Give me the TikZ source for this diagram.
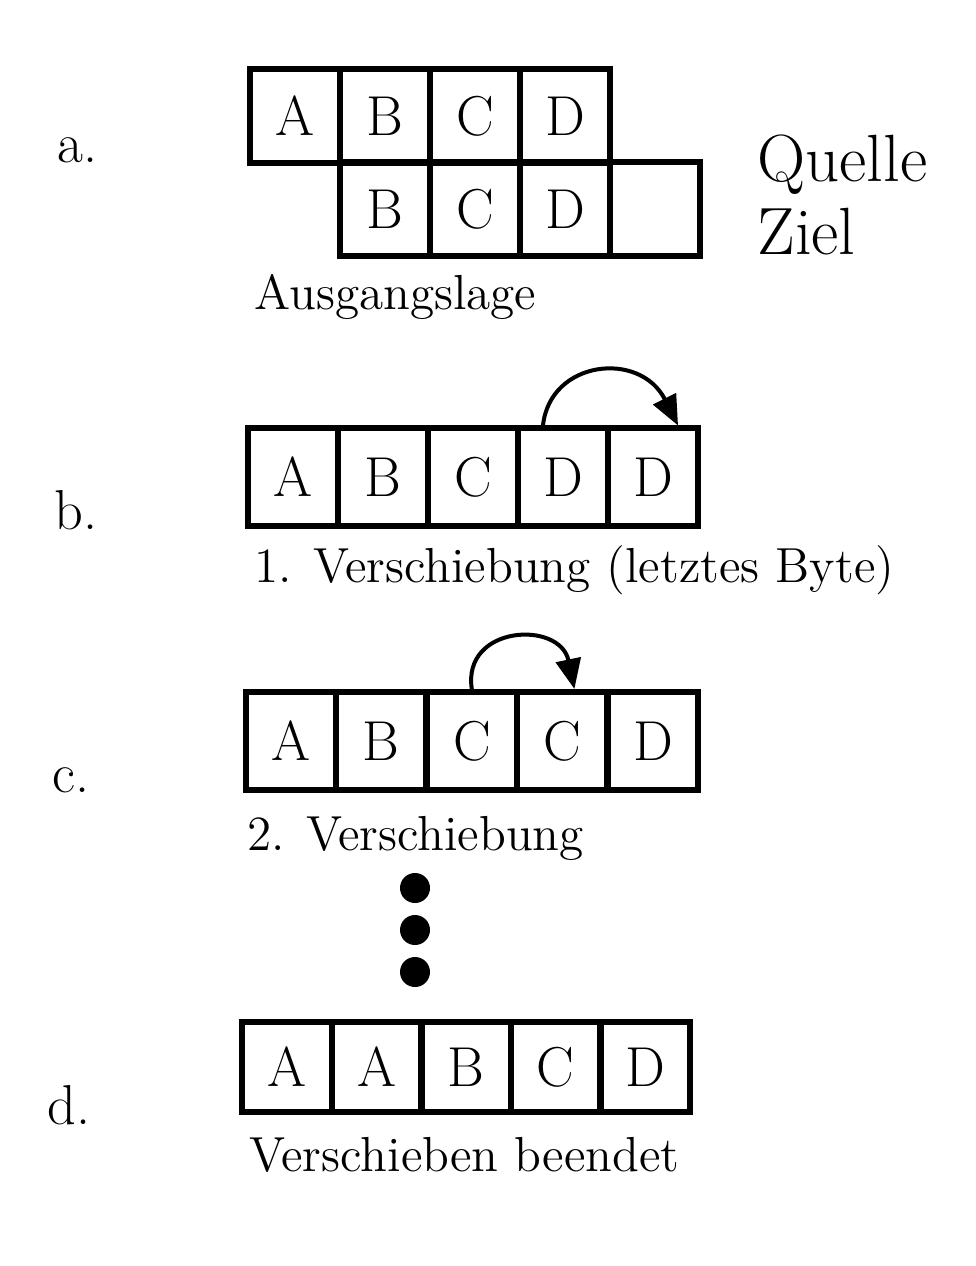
\documentclass[tikz,border=0pt]{standalone}
\usepackage{tikz}
\usetikzlibrary{arrows.meta}

\tikzset{
  cell/.style={draw, line width=.06cm, minimum width=.9cm, minimum height=.93cm,
    inner sep=0pt, font=\fontsize{16}{18}\selectfont},
  tag/.style={anchor=west, font=\fontsize{16}{18}\selectfont},
  caption/.style={anchor=west, font=\fontsize{14}{16}\selectfont},
  jump/.style={line width=.04cm, -{Triangle[length=.3cm,width=.25cm]}}
}

\begin{document}
\begin{tikzpicture}[x=.01cm,y=-.01cm]
  \useasboundingbox (0,0) rectangle (975,1266);

  % a. Ausgangslage
  \foreach \t [count=\i] in {A,B,C,D}
    \node[cell] (qa\i) at (250+\i*90-45, 116) {\t};
  \foreach \t [count=\i] in {B,C,D,{}}
    \node[cell] (za\i) at (340+\i*90-45, 209) {\t};
  \node[tag] (la) at (45,150) {a.};
  \node[tag, font=\fontsize{19}{21}\selectfont] (quelle) at (745,165) {Quelle};
  \node[tag, font=\fontsize{19}{21}\selectfont] (ziel) at (745,232) {Ziel};
  \node[caption] (ca) at (242,297) {Ausgangslage};

  % b. erste Verschiebung
  \foreach \t [count=\i] in {A,B,C,D,D}
    \node[cell, minimum height=.97cm] (b\i) at (248+\i*90-45, 477) {\t};
  \draw[jump] ([xshift=-.2cm]b4.north) .. controls (550,360) and (640,350) .. ([xshift=.25cm]b5.north);
  \node[tag] (lb) at (42,510) {b.};
  \node[caption] (cb) at (242,570) {1. Verschiebung (letztes Byte)};

  % c. zweite Verschiebung
  \foreach \t [count=\i] in {A,B,C,C,D}
    \node[cell, minimum height=.98cm] (c\i) at (245+\i*90.6-45, 741) {\t};
  \draw[jump] (c3.north) .. controls (462,625) and (560,620) .. ([xshift=.12cm]c4.north);
  \node[tag] (lc) at (40,780) {c.};
  \node[caption] (cc) at (235,838) {2. Verschiebung};

  % Punkte
  \foreach \y [count=\i] in {888,930,972}
    \fill (415,\y) circle (15) coordinate (p\i);

  % d. fertig
  \foreach \t [count=\i] in {A,A,B,C,D}
    \node[cell, minimum height=.9cm] (d\i) at (243+\i*89.4-45, 1067) {\t};
  \node[tag] (ld) at (35,1105) {d.};
  \node[caption] (cd) at (237,1155) {Verschieben beendet};
\end{tikzpicture}
\end{document}
